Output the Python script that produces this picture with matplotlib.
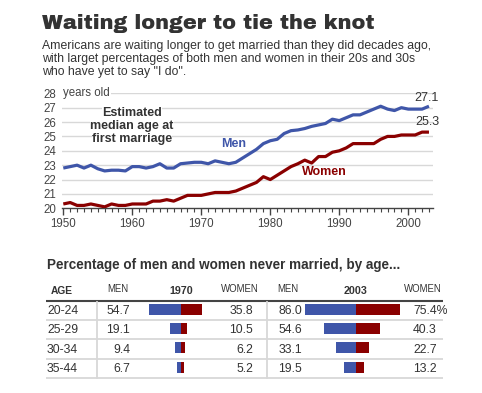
import numpy as np
import matplotlib
matplotlib.use("Agg")
import matplotlib.pyplot as plt
from matplotlib.ticker import MultipleLocator

# ---------------- data ----------------
years = list(range(1950, 2004))
men_age = [22.8, 22.9, 23.0, 22.8, 23.0, 22.75, 22.6, 22.65, 22.65, 22.6,
           22.9, 22.9, 22.8, 22.9, 23.1, 22.8, 22.8, 23.1, 23.15, 23.2,
           23.2, 23.1, 23.3, 23.2, 23.1, 23.2, 23.5, 23.8, 24.1, 24.5,
           24.7, 24.8, 25.2, 25.4, 25.45, 25.55, 25.7, 25.8, 25.9, 26.2,
           26.1, 26.3, 26.5, 26.5, 26.7, 26.9, 27.1, 26.9, 26.8, 27.0,
           26.9, 26.9, 26.9, 27.1]
women_age = [20.3, 20.4, 20.2, 20.2, 20.3, 20.2, 20.1, 20.3, 20.2, 20.2,
             20.3, 20.3, 20.3, 20.5, 20.5, 20.6, 20.5, 20.7, 20.9, 20.9,
             20.9, 21.0, 21.1, 21.1, 21.1, 21.2, 21.4, 21.6, 21.8, 22.2,
             22.0, 22.3, 22.6, 22.9, 23.1, 23.35, 23.15, 23.6, 23.6, 23.9,
             24.0, 24.2, 24.5, 24.5, 24.5, 24.5, 24.8, 25.0, 25.0, 25.1,
             25.1, 25.1, 25.3, 25.3]
ylim_age = (20, 28)
end_labels = ["27.1", "25.3"]

age_groups = ["20-24", "25-29", "30-34", "35-44"]
men_1970 = [54.7, 19.1, 9.4, 6.7]
women_1970 = [35.8, 10.5, 6.2, 5.2]
men_2003 = [86.0, 54.6, 33.1, 19.5]
women_2003 = [75.4, 40.3, 22.7, 13.2]

# ---------------- style ----------------
BLUE = "#3f56a9"
RED = "#8a0000"
DARK = "#333333"
GRID = "#d8d8d8"
SANS = ["Liberation Sans", "DejaVu Sans"]
TITLE_FONT = ["Archivo Black", "DejaVu Sans"]

W, H = 482, 393
fig = plt.figure(figsize=(W / 100, H / 100), dpi=100)
fig.patch.set_facecolor("white")


def px_axes(x0, y0, x1, y1, **kw):
    return fig.add_axes([x0 / W, 1 - y1 / H, (x1 - x0) / W, (y1 - y0) / H], **kw)


ov = px_axes(0, 0, W, H)
ov.set_xlim(0, W)
ov.set_ylim(H, 0)
ov.axis("off")
ov.patch.set_alpha(0)

# ---------------- titles ----------------
ov.text(42, 23.5, "Waiting longer to tie the knot", fontsize=15,
        fontweight="bold", family=TITLE_FONT, color=DARK, va="center", ha="left")
sub = ["Americans are waiting longer to get married than they did decades ago,",
       "with larget percentages of both men and women in their 20s and 30s",
       "who have yet to say \"I do\"."]
for i, line in enumerate(sub):
    ov.text(42, 45.5 + 13.5 * i, line, fontsize=8.85, family=SANS, color=DARK,
            va="center", ha="left")

# ---------------- line chart ----------------
ax = px_axes(61.7, 93.3, 432.7, 208.3)
ax.plot(years, men_age, color=BLUE, lw=2.3, solid_capstyle="butt", zorder=3)
ax.plot(years, women_age, color=RED, lw=2.3, solid_capstyle="butt", zorder=3)
ax.set_xlim(1949.77, 2003.54)
ax.set_ylim(*ylim_age)
for s in ["left", "right", "top"]:
    ax.spines[s].set_visible(False)
ax.spines["bottom"].set_color("#444444")
ax.spines["bottom"].set_linewidth(1.0)
ax.xaxis.set_major_locator(MultipleLocator(10))
ax.xaxis.set_minor_locator(MultipleLocator(1))
ax.tick_params(axis="x", which="major", length=5, width=1, color="#444444",
               labelsize=8.3, labelcolor="#444444", pad=2)
ax.tick_params(axis="x", which="minor", length=3, width=0.8, color="#444444")
ax.set_xticks(range(1950, 2001, 10))
ax.set_yticks(range(20, 29))
ax.tick_params(axis="y", length=0, labelsize=8.3, labelcolor="#444444", pad=4)
for lab in ax.get_xticklabels() + ax.get_yticklabels():
    lab.set_family(SANS)
for yv in range(21, 29):
    ax.axhline(yv, color=GRID, lw=1.0, zorder=1)
ax.patch.set_alpha(0)

ax.text(63, 93.3, "years old", transform=ov.transData, fontsize=8.3, family=SANS,
        color="#444444", va="center", ha="left",
        bbox=dict(facecolor="white", edgecolor="none", pad=1.0), zorder=4)
for i, line in enumerate(["Estimated", "median age at", "first marriage"]):
    ax.text(132, 113.3 + 12.8 * i, line, transform=ov.transData, fontsize=9,
            fontweight="bold", family=SANS, color=DARK, ha="center", va="center",
            bbox=dict(facecolor="white", edgecolor="none", pad=0.3), zorder=4)
ax.text(234, 144.3, "Men", transform=ov.transData, fontsize=9, fontweight="bold",
        family=SANS, color=BLUE, ha="center", va="center", zorder=4)
ax.text(324, 172.3, "Women", transform=ov.transData, fontsize=9, fontweight="bold",
        family=SANS, color=RED, ha="center", va="center", zorder=4)
ax.annotate(end_labels[0], (years[-1], men_age[-1]), xytext=(-1.5, 6),
            textcoords="offset points", fontsize=9, family=SANS, color=DARK,
            ha="center", va="center")
ax.annotate(end_labels[1], (years[-1], women_age[-1]), xytext=(-1.5, 7.3),
            textcoords="offset points", fontsize=9, family=SANS, color=DARK,
            ha="center", va="center")

# ---------------- table ----------------
ov.text(47, 265, "Percentage of men and women never married, by age...",
        fontsize=9.75, fontweight="bold", family=SANS, color=DARK,
        ha="left", va="center")

hdr_y = 290.5
ov.text(50.7, hdr_y + 1, "AGE", fontsize=7.4, fontweight="bold", family=SANS,
        color=DARK, ha="left", va="center")
for xc, t in [(118, "MEN"), (240, "WOMEN"), (288, "MEN"), (423, "WOMEN")]:
    ov.text(xc, hdr_y - 1.5, t, fontsize=6.9, family=SANS, color=DARK,
            ha="center", va="center")
for xc, t in [(181, "1970"), (356, "2003")]:
    ov.text(xc, hdr_y + 1, t, fontsize=7.7, fontweight="bold", family=SANS,
            color=DARK, ha="center", va="center")

ov.plot([46, 443], [300.7, 300.7], color="#444444", lw=1.5, solid_capstyle="butt")
row_h = 19.3
top = 300.7
for i in range(len(age_groups)):
    yb = top + row_h * (i + 1)
    ov.plot([46, 443], [yb, yb], color=GRID, lw=1.3, solid_capstyle="butt")
for xv in [96.7, 267.3]:
    ov.plot([xv, xv], [top + 0.8, top + row_h * 4], color=GRID, lw=1.3)

num_kw = dict(fontsize=8.8, family=SANS, color=DARK, va="center")
for i, ag in enumerate(age_groups):
    yc = top + row_h * (i + 0.5) + 0.8
    ov.text(47, yc, ag, ha="left", **num_kw)
    ov.text(130, yc, f"{men_1970[i]:.1f}", ha="right", **num_kw)
    ov.text(253, yc, f"{women_1970[i]:.1f}", ha="right", **num_kw)
    ov.text(302, yc, f"{men_2003[i]:.1f}", ha="right", **num_kw)
    ov.text(413, yc, f"{women_2003[i]:.1f}" + ("%" if i == 0 else ""), ha="left", **num_kw)

scale = 0.59
half = 62
for xc, mv, wv in [(181, men_1970, women_1970), (356, men_2003, women_2003)]:
    bx = px_axes(xc - half, top, xc + half, top + row_h * 4)
    bx.set_xlim(-half / scale, half / scale)
    bx.set_ylim(len(age_groups) - 0.5, -0.5)
    pos = np.arange(len(age_groups)) - 0.06
    bx.barh(pos, [-v for v in mv], height=0.57, color=BLUE, linewidth=0)
    bx.barh(pos, wv, height=0.57, color=RED, linewidth=0)
    bx.axis("off")
    bx.patch.set_alpha(0)

fig.savefig("out.png", dpi=100, facecolor="white")
